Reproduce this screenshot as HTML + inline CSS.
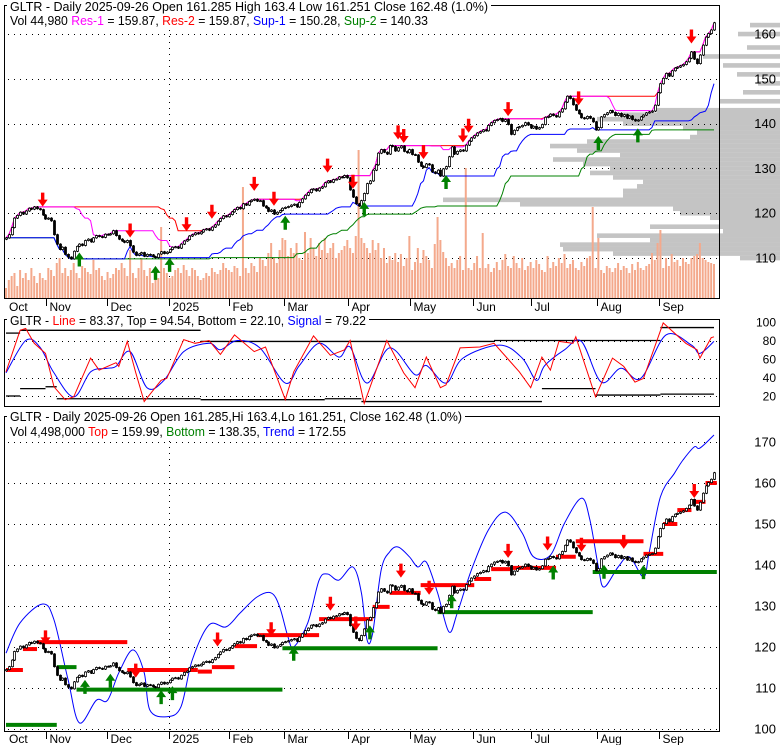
<!DOCTYPE html>
<html><head><meta charset="utf-8"><title>GLTR chart</title>
<style>
html,body{margin:0;padding:0;background:#fff;}
svg{display:block;font-family:"Liberation Sans",Arial,sans-serif;}
</style></head>
<body>
<svg id="chart" width="780" height="745" viewBox="0 0 780 745" xmlns="http://www.w3.org/2000/svg">
<rect x="0" y="0" width="780" height="745" fill="#fff"/>
<g id="g-vbp"></g>
<g id="g-grid"></g>
<g id="g-vol"></g>
<g id="g-lines"></g>
<g id="g-candles"></g>
<g id="g-arrows"></g>
<g id="g-frame"></g>
<g id="g-text"></g>
</svg>
<script>
const closes = [
114.5,115.2,116.8,118.9,119.5,120.2,119.8,120.5,121.1,120.9,
121.4,121.0,120.8,119.6,118.7,118.9,118.3,115.2,113.1,111.9,
112.4,110.8,110.2,109.8,111.5,112.6,113.1,112.8,113.9,114.2,
113.6,114.5,115.0,114.8,114.6,115.3,115.2,115.4,116.1,115.0,
114.2,113.8,113.5,113.9,112.7,111.3,110.6,110.9,111.2,110.4,
110.8,110.7,110.3,110.1,110.9,111.4,111.0,111.3,111.9,112.4,
112.5,112.2,113.1,113.8,114.1,114.9,115.2,115.6,115.4,115.8,
116.3,116.5,116.2,116.9,117.4,118.2,118.8,119.4,119.2,119.7,
120.3,120.8,121.3,121.0,122.1,121.8,122.6,122.9,123.1,122.7,
122.8,121.6,121.2,120.4,120.7,119.8,120.2,120.6,121.1,121.3,
121.5,121.8,122.0,121.4,122.4,123.2,124.0,124.6,125.3,125.4,
125.0,125.6,125.9,126.8,127.2,126.9,127.5,127.6,128.1,128.0,
128.4,127.9,125.2,123.6,122.1,121.6,122.8,124.4,126.6,127.2,
129.6,130.8,133.4,134.2,133.6,133.2,135.1,134.9,133.9,134.6,
135.0,133.8,133.5,134.2,133.1,133.0,131.4,130.5,130.2,131.0,
130.8,129.2,128.9,129.6,128.3,129.9,130.4,132.6,134.8,133.2,
133.8,134.1,133.9,135.2,136.1,136.8,137.3,137.9,138.2,138.6,
138.4,139.6,140.2,140.7,140.9,141.1,140.5,140.9,139.8,137.6,
138.5,139.1,139.3,139.6,140.2,139.7,139.0,139.4,138.8,139.1,
139.8,141.4,141.6,142.1,141.8,141.5,142.6,143.3,144.8,146.1,
145.6,144.2,143.0,142.2,141.3,141.1,141.6,141.2,140.4,138.6,
139.1,141.5,142.0,142.4,142.9,142.5,141.8,142.3,141.6,142.0,
141.2,141.7,140.9,140.6,140.8,141.5,141.9,142.4,142.6,142.8,
144.1,146.9,148.9,150.1,151.2,150.6,151.8,152.4,152.6,152.9,
153.2,153.8,154.6,156.0,154.4,153.4,155.3,157.5,159.3,160.1,
160.9,162.5];
const volumes = [
10,18,22,25,12,28,20,25,18,30, 22,15,25,20,18,30,28,22,35,40,
25,30,22,28,35,25,20,32,30,26, 24,38,28,30,22,18,26,20,24,30,
28,35,30,22,48,25,20,30,40,28, 22,30,15,26,20,71,30,25,20,22,
28,30,25,33,28,22,30,28,22,18, 20,25,22,30,26,24,28,35,30,28,
26,32,30,22,111,30,25,35,32,26, 40,38,32,45,55,40,35,48,60,58,
42,50,45,55,40,38,66,45,60,50, 42,55,48,60,45,50,55,40,45,48,
52,58,50,45,62,148,60,55,50,45, 58,48,55,40,50,35,42,38,45,36,
44,32,40,62,28,36,50,35,48,42, 38,30,54,81,58,46,40,32,35,30,
38,42,28,130,30,28,35,42,30,65, 30,34,26,30,36,28,38,44,32,30,
42,35,30,40,28,32,36,30,38,34, 28,26,42,30,36,32,40,35,44,30,
34,38,30,28,36,32,40,42,91,30, 60,28,25,32,30,26,30,35,28,32,
30,25,34,28,36,30,28,32,34,45, 38,55,68,30,40,32,44,36,38,32,
40,36,34,40,42,44,55,40,38,36, 35,34];
const vbpPrices = [162,160,157,155,153,151,149,147,145,143,142,141,140,139,138,137,136,135,134,133,132,131,130,129,128,127,126,125,124,123,122,121,120,119,118,117,116,115,114,113,112,111,110];
const vbpLengths = [30,42,33,77,57,43,22,37,60,123,157,183,157,97,83,90,193,230,203,160,227,197,170,190,167,137,143,157,157,337,260,107,100,70,60,130,57,183,130,220,217,167,40];
const redArrowsTop = [13,44,64,73,88,95,114,123,139,141,148,162,164,178,203,243];
const greenArrowsTop = [26,53,58,99,127,156,210,224];
const redArrowsBot = [14,46,75,94,115,124,140,150,178,192,204,219,244];
const greenArrowsBot = [28,37,55,59,102,129,158,194,212,226];
const trendDays = [0,5,13,17,22,26,32,36,40,45,49,51,57,62,66,72,78,83,89,94,97,100,102,107,111,114,118,123,126,128,130,133,136,139,143,146,149,153,157,160,165,171,177,183,187,193,198,204,207,210,212,217,221,226,228,232,237,240,244,246,251];
const trendVals = [118.5,125.9,130.5,126.6,112,101.5,107,107,113.7,119.3,113.7,104.6,103,105.4,116.8,125.4,124.9,128.3,132.2,133.2,129.8,122.4,120,125.9,136.3,137.8,136.3,139.5,133.2,121.7,123.4,138.8,143.2,144.4,142,139.5,140.7,133.2,123.7,128.3,138.8,148.5,152.9,147.8,142,142.4,150.2,156.3,151,139.5,134.6,139.5,142,137.1,142.9,156.6,162.4,165.6,168.8,168.5,171.7];
const topSegStart = [0,6,11,43,68,73,81,89,111,130,136,147,166,172,179,195,202,226,233,238,243,248];
const topSegEnd = [6,11,43,68,73,81,89,111,130,136,147,166,172,179,195,202,226,233,238,243,248,252];
const topSegVal = [114.4,119.5,121.2,114.4,114,115.1,120.2,122.9,126.8,129.8,133.2,135.1,136.6,139,139.3,142,145.8,142.7,150,153.4,155.4,160];
const botSegStart = [0,18,25,98,153,208];
const botSegEnd = [18,25,98,153,208,252];
const botSegVal = [101,115.1,109.6,119.7,128.5,138.3];
// oscillator panel
const oscLineDays = [0,5,7,10,14,17,21,24,30,33,39,40,43,46,49,55,57,63,67,72,76,81,88,92,99,102,109,115,120,122,127,135,141,145,149,154,156,161,168,173,182,186,190,193,196,201,202,209,215,219,223,226,233,241,245,246,250,251];
const oscLineVals = [46,91,93,77,66,30,16,19,61,48,56,52,79,45,14,37,39,81,77,80,65,86,68,73,16,46,85,64,70,80,12,80,45,29,62,29,32,72,73,77,46,29,62,48,79,77,84,19,61,52,35,39,99,77,70,61,83,84];
const oscSigDays = [0,7,12,17,24,30,36,39,44,50,56,63,72,76,82,90,99,104,111,118,122,128,136,145,149,156,162,175,183,188,191,198,204,211,218,225,234,243,246,251];
const oscSigVals = [45,80,73,45,19,46,50,52,68,29,37,68,77,70,80,72,34,53,77,62,73,34,72,43,53,34,61,75,61,37,53,70,79,35,50,39,86,75,66,79];
const oscTopStart = [0,5,69,173,232];
const oscTopEnd = [5,69,173,232,251];
const oscTopVals = [88,91,79,80,94];
const oscBotStart = [0,5,14,18,69,113,126,190,209,232];
const oscBotEnd = [5,14,18,69,113,126,190,209,232,251];
const oscBotVals = [20,28,30,17,16,17,14,28,21,22];
const monthNames = ["Oct","Nov","Dec","2025","Feb","Mar","Apr","May","Jun","Jul","Aug","Sep"];
const monthDays = [0,14.2,35.8,57.8,79,98.6,121.3,143.3,165.6,186,209.6,231.6];
const topTicks = [110,120,130,140,150,160];
const midTicks = [20,40,60,80,100];
const botTicks = [100,110,120,130,140,150,160,170];

const NS = "http://www.w3.org/2000/svg";
const n = closes.length;
const xD = i => 6 + i * (708 / (n - 1));
const yT = v => 34 + (160 - v) * 4.48;
const yM = v => 322 + (100 - v) * 0.925;
const yB = v => 442 + (170 - v) * 4.1;
const yVol = v => 298 - v;
function mk(parent, tag, attrs, text) {
  const el = document.createElementNS(NS, tag);
  for (const k in attrs) el.setAttribute(k, attrs[k]);
  if (text !== undefined) el.textContent = text;
  document.getElementById(parent).appendChild(el);
  return el;
}
function pts(xs, ys) { return xs.map((x, k) => x.toFixed(1) + "," + ys[k].toFixed(1)).join(" "); }
function smooth(xs, ys) {
  let d = "M" + xs[0].toFixed(1) + "," + ys[0].toFixed(1);
  for (let k = 0; k < xs.length - 1; k++) {
    const x0 = xs[Math.max(0, k - 1)], y0 = ys[Math.max(0, k - 1)];
    const x3 = xs[Math.min(xs.length - 1, k + 2)], y3 = ys[Math.min(xs.length - 1, k + 2)];
    const c1x = xs[k] + (xs[k + 1] - x0) / 6, c1y = ys[k] + (ys[k + 1] - y0) / 6;
    const c2x = xs[k + 1] - (x3 - xs[k]) / 6, c2y = ys[k + 1] - (y3 - ys[k]) / 6;
    d += ` C${c1x.toFixed(1)},${c1y.toFixed(1)} ${c2x.toFixed(1)},${c2y.toFixed(1)} ${xs[k + 1].toFixed(1)},${ys[k + 1].toFixed(1)}`;
  }
  return d;
}
function rolling(arr, w, fn) { return arr.map((_, i) => fn(arr.slice(Math.max(0, i - w + 1), i + 1))); }
const mx = a => Math.max(...a), mn = a => Math.min(...a);

// volume by price
vbpPrices.forEach((p, k) => {
  const r = mk("g-vbp", "rect", {x: 780 - vbpLengths[k], y: yT(p + 0.5), width: vbpLengths[k], height: 4.6, fill: "#c4c4c4"});
  
  
});

// grid
function hgrid(y, x1, x2) {
  const l = mk("g-grid", "line", {x1: x1, x2: x2, y1: y, y2: y, stroke: "#000", "stroke-width": 1, "stroke-dasharray": "1,5"});
  
  
}
topTicks.forEach(v => hgrid(Math.round(yT(v)) + 0.5, 8, 718));
midTicks.slice(0, 4).forEach(v => hgrid(Math.round(yM(v)) + 0.5, 8, 718));
botTicks.forEach(v => hgrid(Math.round(yB(v)) + 0.5, 8, 718));
[[6, 297], [417, 730]].forEach(r => {
  const l = mk("g-grid", "line", {x1: 169.5, x2: 169.5, y1: r[0] + 24, y2: r[1], stroke: "#000", "stroke-dasharray": "1,5"});
  
  
});

// volume bars
volumes.forEach((v, i) => {
  const r = mk("g-vol", "rect", {x: xD(i) - 1, y: yVol(v), width: 2, height: v, fill: "#f4a98c"});
  
  
});

// support / resistance lines (top panel)
const xs = closes.map((_, i) => xD(i));
const res2 = rolling(closes, 45, mx), res1 = rolling(closes, 15, mx);
const sup1 = rolling(closes, 20, mn), sup2 = rolling(closes, 50, mn);
[[sup2, "#008000", "sup-2-line"], [sup1, "#0000ff", "sup-1-line"], [res2, "#ff0000", "res-2-line"], [res1, "#ff00ff", "res-1-line"]].forEach(s => {
  const p = mk("g-lines", "polyline", {points: pts(xs, s[0].map(yT)), fill: "none", stroke: s[1], "stroke-width": 1});
  
  
});

// oscillator
oscTopVals.forEach((v, k) => {
  const l = mk("g-lines", "line", {x1: xD(oscTopStart[k]), x2: xD(oscTopEnd[k]), y1: yM(v), y2: yM(v), stroke: "#000", "stroke-width": 1.3});
  
  
});
oscBotVals.forEach((v, k) => {
  const l = mk("g-lines", "line", {x1: xD(oscBotStart[k]), x2: xD(oscBotEnd[k]), y1: yM(v), y2: yM(v), stroke: "#000", "stroke-width": 1.3});
  
  
});
const sig = mk("g-lines", "path", {d: smooth(oscSigDays.map(xD), oscSigVals.map(yM)), fill: "none", stroke: "#0000ff", "stroke-width": 1});


const osl = mk("g-lines", "polyline", {points: pts(oscLineDays.map(xD), oscLineVals.map(yM)), fill: "none", stroke: "#ff0000", "stroke-width": 1});



// bottom panel
const tr = mk("g-lines", "path", {d: smooth(trendDays.map(xD), trendVals.map(yB)), fill: "none", stroke: "#0000ff", "stroke-width": 1});


topSegVal.forEach((v, k) => {
  const l = mk("g-lines", "line", {x1: xD(topSegStart[k]), x2: xD(topSegEnd[k]), y1: yB(v), y2: yB(v), stroke: "#ff0000", "stroke-width": 4});
  
  
});
botSegVal.forEach((v, k) => {
  const l = mk("g-lines", "line", {x1: xD(botSegStart[k]), x2: xD(botSegEnd[k]), y1: yB(v), y2: yB(v), stroke: "#008000", "stroke-width": 4});
  
  
});

// candles
function candle(i, yf, name) {
  const o = i > 0 ? closes[i - 1] : closes[0] - 0.3, c = closes[i];
  const x = Math.round(xD(i)) + 0.5;
  const w = mk("g-candles", "line", {x1: x, x2: x, y1: yf(Math.max(o, c) + 0.2), y2: yf(Math.min(o, c) - 0.2), stroke: "#000", "stroke-width": 1});
  
  
  const top = yf(Math.max(o, c)), h = Math.max(1, Math.abs(yf(o) - yf(c)));
  const b = mk("g-candles", "rect", {x: x - 1, y: top, width: 2, height: h, fill: c >= o ? "#fff" : "#000", stroke: "#000", "stroke-width": 0.8});
  
  
}
closes.forEach((_, i) => { candle(i, yT, 'candle-top'); candle(i, yB, 'candle-bottom'); });

// arrows
function arrow(i, yf, down, name) {
  const c = closes[i], x = xD(i);
  let p;
  if (down) {
    const tip = yf(c + 1.2) - 3;
    p = `${x - 1.7},${tip - 14} ${x + 1.7},${tip - 14} ${x + 1.7},${tip - 7} ${x + 5},${tip - 7} ${x},${tip} ${x - 5},${tip - 7} ${x - 1.7},${tip - 7}`;
  } else {
    const tip = yf(c - 1.2) + 3;
    p = `${x - 1.7},${tip + 14} ${x + 1.7},${tip + 14} ${x + 1.7},${tip + 7} ${x + 5},${tip + 7} ${x},${tip} ${x - 5},${tip + 7} ${x - 1.7},${tip + 7}`;
  }
  const a = mk("g-arrows", "polygon", {points: p, fill: down ? "#ff0000" : "#008000"});
  
  
}
redArrowsTop.forEach(i => arrow(i, yT, true, 'sell-arrow'));
greenArrowsTop.forEach(i => arrow(i, yT, false, 'buy-arrow'));
redArrowsBot.forEach(i => arrow(i, yB, true, 'sell-arrow'));
greenArrowsBot.forEach(i => arrow(i, yB, false, 'buy-arrow'));

// frames
[[4.5, 5.5, 719.5, 298.5, 'price-panel-frame'], [4.5, 319.5, 719.5, 406.5, 'oscillator-panel-frame'], [4.5, 416.5, 719.5, 731.5, 'trend-panel-frame']].forEach(f => {
  const r = mk("g-frame", "rect", {x: f[0], y: f[1], width: f[2] - f[0], height: f[3] - f[1], fill: "none", stroke: "#000", "stroke-width": 1});
  
  
});
[[298, 311], [731, 743]].forEach(a => {
  monthDays.forEach((d, k) => {
    const x = Math.round(xD(d)) + 0.5;
    if (k > 0) {
      const t = mk("g-frame", "line", {x1: x, x2: x, y1: a[0], y2: a[0] + 8, stroke: "#000"});
      
      
    }
    const lb = mk("g-text", "text", {x: k === 0 ? 9 : x + 3, y: a[1], "font-size": 12, fill: "#000"}, monthNames[k]);
    
    
  });
});
topTicks.forEach(v => {
  const t = mk("g-text", "text", {x: 776, y: yT(v) + 4.5, "font-size": 13, "text-anchor": "end"}, String(v));
  
  
});
midTicks.forEach(v => {
  const t = mk("g-text", "text", {x: 776, y: yM(v) + 4.5, "font-size": 12, "text-anchor": "end"}, String(v));
  
  
});
botTicks.forEach(v => {
  const t = mk("g-text", "text", {x: 776, y: yB(v) + 4.5, "font-size": 13, "text-anchor": "end"}, String(v));
  
  
});

function title(y, x2, parts, len, name, bg) {
  if (bg) {
    const r = mk("g-text", "rect", {x: 7, y: y - 11, width: x2 - 7 + 3, height: 13, fill: "#fff"});
    
    
  }
  const t = mk("g-text", "text", {x: 10, y: y, "font-size": 13, textLength: len, lengthAdjust: "spacingAndGlyphs"});
  
  
  parts.forEach(p => {
    const s = document.createElementNS(NS, "tspan");
    s.setAttribute("fill", p[1]);
    s.textContent = p[0];
    t.appendChild(s);
  });
}
title(11, 488, [["GLTR - Daily 2025-09-26 Open 161.285  High 163.4  Low 161.251  Close 162.48 (1.0%)", "#000"]], 478, 'price-title', true);
title(25, 428, [["Vol 44,980 ", "#000"], ["Res-1", "#ff00ff"], [" = 159.87, ", "#000"], ["Res-2", "#ff0000"], [" = 159.87, ", "#000"], ["Sup-1", "#0000ff"], [" = 150.28, ", "#000"], ["Sup-2", "#008000"], [" = 140.33", "#000"]], 418, 'price-legend', false);
title(325, 366, [["GLTR - ", "#000"], ["Line", "#ff0000"], [" = 83.37, Top = 94.54, Bottom = 22.10, ", "#000"], ["Signal", "#0000ff"], [" = 79.22", "#000"]], 356, 'oscillator-title', true);
title(421, 462, [["GLTR - Daily 2025-09-26 Open 161.285,Hi 163.4,Lo 161.251, Close 162.48 (1.0%)", "#000"]], 452, 'trend-title', true);
title(436, 346, [["Vol 4,498,000 ", "#000"], ["Top", "#ff0000"], [" = 159.99, ", "#000"], ["Bottom", "#008000"], [" = 138.35, ", "#000"], ["Trend", "#0000ff"], [" = 172.55", "#000"]], 336, 'trend-legend', false);
</script>
</body></html>
